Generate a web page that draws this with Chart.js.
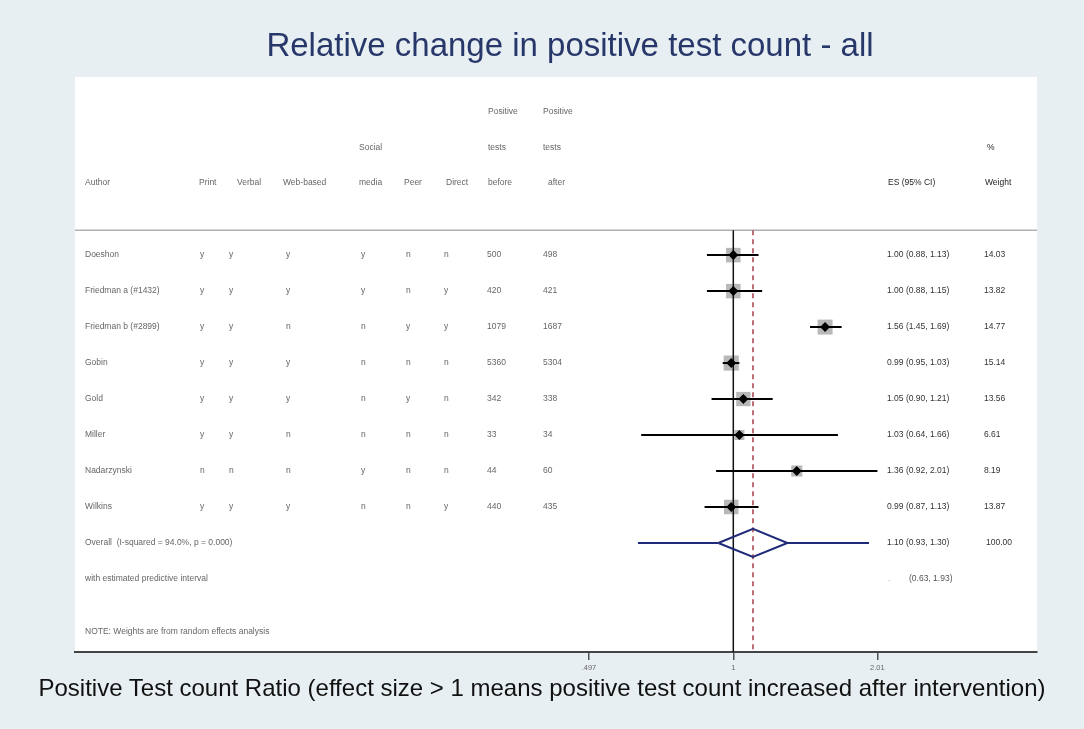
<!DOCTYPE html>
<html><head><meta charset="utf-8">
<script src="https://cdn.jsdelivr.net/npm/chart.js@4"></script>
<style>
html,body{margin:0;padding:0;background:#e8eff2;}
#wrap{position:relative;width:1084px;height:729px;overflow:hidden;}
#c{position:absolute;left:0;top:0;}
#title{position:absolute;left:0;width:1140px;top:28px;text-align:center;font:33px/33px "Liberation Sans",Arial,sans-serif;color:#27376a;white-space:nowrap;}
#cap{position:absolute;left:0;width:1084px;top:676px;text-align:center;font:24px/24px "Liberation Sans",Arial,sans-serif;color:#111;white-space:nowrap;}
</style></head>
<body><div id="wrap"><canvas id="c" width="1084" height="729"></canvas>
<div id="title">Relative change in positive test count - all</div>
<div id="cap">Positive Test count Ratio (effect size &gt; 1 means positive test count increased after intervention)</div>
</div>
<script>
const authors = ["Doeshon","Friedman a (#1432)","Friedman b (#2899)","Gobin","Gold","Miller","Nadarzynski","Wilkins"];
const printCol = ["y","y","y","y","y","y","n","y"];
const verbalCol = ["y","y","y","y","y","y","n","y"];
const webBasedCol = ["y","y","n","y","y","n","n","y"];
const socialMediaCol = ["y","y","n","n","n","n","y","n"];
const peerCol = ["n","n","y","n","y","n","n","n"];
const directCol = ["n","y","y","n","n","n","n","y"];
const testsBefore = [500,420,1079,5360,342,33,44,440];
const testsAfter = [498,421,1687,5304,338,34,60,435];
const es = [1.00,1.00,1.56,0.99,1.05,1.03,1.36,0.99];
const ciLow = [0.88,0.88,1.45,0.95,0.90,0.64,0.92,0.87];
const ciHigh = [1.13,1.15,1.69,1.03,1.21,1.66,2.01,1.13];
const weights = [14.03,13.82,14.77,15.14,13.56,6.61,8.19,13.87];
const overallES = 1.10, overallLow = 0.93, overallHigh = 1.30, overallWeight = 100.00;
const predLow = 0.63, predHigh = 1.93;
const overallText = "Overall  (I-squared = 94.0%, p = 0.000)";
const predText = "with estimated predictive interval";
const noteText = "NOTE: Weights are from random effects analysis";
const tickValues = [0.497, 1, 2.01];
const tickLabels = [".497", "1", "2.01"];
const xMin = 0.0412, xMax = 4.355;

const nStudy = authors.length;
const rowOverall = nStudy, rowPred = nStudy + 1, rowNote = nStudy + 2.47, rowSep = -0.69;
const yMin = -4.95, yMax = 11.03;
const f2 = v => v.toFixed(2);

const datasets = [];
datasets.push({data: es.map((v,i)=>({x:v,y:i})), pointStyle:'rectRot', pointRadius:5, backgroundColor:'#000', borderWidth:0, order:0});
es.forEach((v,i)=>datasets.push({data:[{x:ciLow[i],y:i},{x:ciHigh[i],y:i}], showLine:true, borderColor:'#000', borderWidth:2, pointRadius:0, order:1}));
const dh = 0.39;
datasets.push({data:[{x:overallLow,y:rowOverall},{x:overallES,y:rowOverall-dh},{x:overallHigh,y:rowOverall},{x:overallES,y:rowOverall+dh},{x:overallLow,y:rowOverall}], showLine:true, borderColor:'#1f2a78', borderWidth:2, pointRadius:0, order:1});
datasets.push({data:[{x:predLow,y:rowOverall},{x:overallLow,y:rowOverall}], showLine:true, borderColor:'#1f2a78', borderWidth:2, pointRadius:0, order:1});
datasets.push({data:[{x:overallHigh,y:rowOverall},{x:predHigh,y:rowOverall}], showLine:true, borderColor:'#1f2a78', borderWidth:2, pointRadius:0, order:1});
datasets.push({data:[{x:1,y:rowSep},{x:1,y:yMax}], showLine:true, borderColor:'#111', borderWidth:1.5, pointRadius:0, order:2});
datasets.push({data:[{x:overallES,y:rowSep},{x:overallES,y:yMax}], showLine:true, borderColor:'#a8404c', borderWidth:1.5, borderDash:[5,4], pointRadius:0, order:2});
datasets.push({data: es.map((v,i)=>({x:v,y:i})), pointStyle:'rect', pointRadius: weights.map(w=>Math.sqrt(w)*2.75), backgroundColor:'#b8b8b8', borderWidth:0, order:3});
datasets.push({data:[{x:xMin,y:rowSep},{x:xMax,y:rowSep}], showLine:true, borderColor:'#b0b0b0', borderWidth:1.5, pointRadius:0, order:4});

const bgPlugin = {
  id:'panelBg',
  beforeDraw(chart){
    const {ctx, chartArea:a} = chart;
    ctx.save(); ctx.fillStyle='#ffffff'; ctx.fillRect(a.left, a.top, a.right-a.left, a.bottom-a.top); ctx.restore();
  }
};

const textPlugin = {
  id:'tableText',
  afterDatasetsDraw(chart){
    const ctx = chart.ctx, ys = chart.scales.y;
    ctx.save();
    ctx.font = '8.5px "Liberation Sans", Arial, sans-serif';
    ctx.textBaseline = 'middle'; ctx.textAlign = 'left';
    const put = (t,x,row,col) => { ctx.fillStyle = col; ctx.fillText(String(t), x, ys.getPixelForValue(row)); };
    const L = '#666', R = '#333', H = '#1e1e1e';
    put('Positive',488,-4,L); put('Positive',543,-4,L);
    put('Social',359,-3,L); put('tests',488,-3,L); put('tests',543,-3,L); put('%',987,-3,H);
    put('Author',85,-2,L); put('Print',199,-2,L); put('Verbal',237,-2,L); put('Web-based',283,-2,L);
    put('media',359,-2,L); put('Peer',404,-2,L); put('Direct',446,-2,L); put('before',488,-2,L); put('after',548,-2,L);
    put('ES (95% CI)',888,-2,H); put('Weight',985,-2,H);
    for (let i=0;i<nStudy;i++){
      put(authors[i],85,i,L); put(printCol[i],200,i,L); put(verbalCol[i],229,i,L); put(webBasedCol[i],286,i,L);
      put(socialMediaCol[i],361,i,L); put(peerCol[i],406,i,L); put(directCol[i],444,i,L);
      put(testsBefore[i],487,i,L); put(testsAfter[i],543,i,L);
      put(`${f2(es[i])} (${f2(ciLow[i])}, ${f2(ciHigh[i])})`,887,i,R);
      put(f2(weights[i]),984,i,R);
    }
    put(overallText,85,rowOverall,L);
    put(`${f2(overallES)} (${f2(overallLow)}, ${f2(overallHigh)})`,887,rowOverall,R);
    put(f2(overallWeight),986,rowOverall,R);
    put(predText,85,rowPred,L);
    put('.',888,rowPred,'#999');
    put(`(${f2(predLow)}, ${f2(predHigh)})`,909,rowPred,'#555');
    put(noteText,85,rowNote,L);
    ctx.restore();
  }
};

new Chart(document.getElementById('c'), {
  type:'scatter',
  data:{datasets},
  options:{
    responsive:false, animation:false, devicePixelRatio:1,
    layout:{padding:{left:75,right:47,top:77,bottom:47}},
    plugins:{legend:{display:false}, tooltip:{enabled:false}, title:{display:false}},
    scales:{
      x:{type:'logarithmic', min:xMin, max:xMax, position:'bottom',
        afterBuildTicks: s => { s.ticks = tickValues.map(v=>({value:v})); },
        afterFit: s => { s.height = 30; },
        ticks:{autoSkip:false, maxRotation:0, padding:3, color:'#666', font:{size:7.5, family:'"Liberation Sans", Arial, sans-serif'}, callback:(v,i)=>tickLabels[i]},
        grid:{display:true, drawOnChartArea:false, drawTicks:true, tickLength:8, color:'#555', lineWidth:1.5},
        border:{display:true, color:'#444', width:2}
      },
      y:{type:'linear', display:false, reverse:true, min:yMin, max:yMax}
    }
  },
  plugins:[bgPlugin, textPlugin]
});
</script>
</body></html>
